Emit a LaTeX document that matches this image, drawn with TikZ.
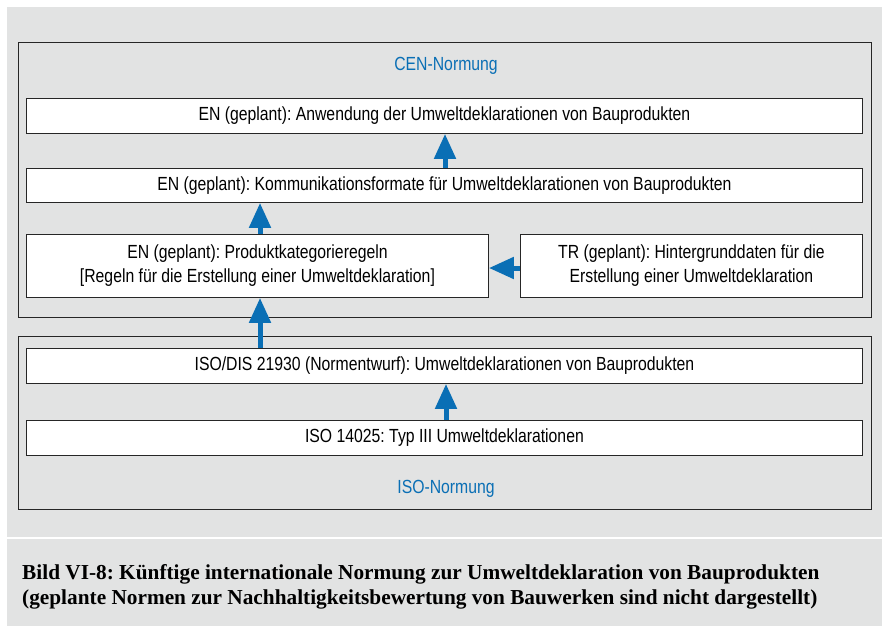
\documentclass[tikz,border=0pt]{standalone}
\usepackage{fontspec}
\setmainfont{Liberation Sans}[FakeStretch=0.83]
\newfontfamily\capfont{Liberation Serif}
\usetikzlibrary{arrows.meta}
\definecolor{panelgray}{HTML}{E2E3E3}
\definecolor{normblue}{HTML}{0A6FB5}
\frenchspacing
\begin{document}
\begin{tikzpicture}[x=1pt, y=-1pt,
        feld/.style={draw=black!85, fill=white, line width=0.9pt, anchor=north west,
                     font=\fontsize{19}{24}\selectfont, align=center, inner sep=0pt},
        rahmen/.style={draw=black!85, line width=0.9pt},
        titel/.style={text=normblue, font=\fontsize{19}{22}\selectfont},
        pfeil/.style={normblue, line width=5pt,
                      -{Triangle[width=21pt, length=25pt]}},
    ]
        \useasboundingbox (0,0) rectangle (882,626);
        % hintergrund
        \fill[panelgray] (7,7) rectangle (882,537);
        \fill[panelgray] (7,539) rectangle (882,626);
        % rahmen CEN und ISO
        \draw[rahmen] (18,42) rectangle (871,317);
        \draw[rahmen] (18,336) rectangle (871,509);
        \node[titel] (cen) at (446,66) {CEN-Normung};
        \node[titel] (iso) at (446,489) {ISO-Normung};
        % normen
        \node[feld, minimum width=836pt, minimum height=35pt] (anw) at (26,98)
            {EN (geplant): Anwendung der Umweltdeklarationen von Bauprodukten};
        \node[feld, minimum width=836pt, minimum height=34pt] (komm) at (26,168)
            {EN (geplant): Kommunikationsformate für Umweltdeklarationen von Bauprodukten};
        \node[feld, minimum width=462pt, minimum height=63pt] (pkr) at (26,234)
            {EN (geplant): Produktkategorieregeln\\ {[}Regeln für die Erstellung einer Umweltdeklaration{]}};
        \node[feld, minimum width=342pt, minimum height=63pt] (tr) at (520,234)
            {TR (geplant): Hintergrunddaten für die\\ Erstellung einer Umweltdeklaration};
        \node[feld, minimum width=836pt, minimum height=35pt] (dis) at (26,348)
            {ISO/DIS 21930 (Normentwurf): Umweltdeklarationen von Bauprodukten};
        \node[feld, minimum width=836pt, minimum height=35pt] (iso14025) at (26,420)
            {ISO 14025: Typ III Umweltdeklarationen};
        % pfeile
        \draw[pfeil] (komm.north -| 445,0) -- (anw.south -| 445,0);
        \draw[pfeil] (pkr.north -| 260,0) -- (komm.south -| 260,0);
        \draw[pfeil] (dis.north -| 260,0) -- (pkr.south -| 260,0);
        \draw[pfeil] (tr.west |- 0,268) -- (pkr.east |- 0,268);
        \draw[pfeil] (iso14025.north -| 446,0) -- (dis.south -| 446,0);
        % bildunterschrift
        \node[anchor=north west, align=left, inner sep=0pt,
              font=\capfont\bfseries\fontsize{21.3}{25}\selectfont] (bild) at (22,564)
            {Bild VI-8: Künftige internationale Normung zur Umweltdeklaration von Bauprodukten\\
             (geplante Normen zur Nachhaltigkeitsbewertung von Bauwerken sind nicht dargestellt)};
    \end{tikzpicture}
\end{document}
